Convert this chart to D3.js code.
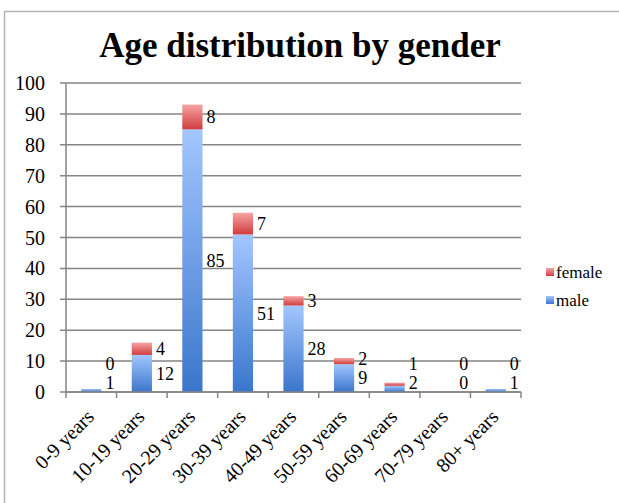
<!DOCTYPE html>
<html lang="en">
<head>
<meta charset="utf-8">
<title>Age distribution by gender</title>
<script src="https://cdn.jsdelivr.net/npm/d3@7"></script>
<style>
  body { margin: 0; background: #fff; }
</style>
</head>
<body>
<script>
// data
var categories = ["0-9 years", "10-19 years", "20-29 years", "30-39 years", "40-49 years",
                  "50-59 years", "60-69 years", "70-79 years", "80+ years"];
var male = [1, 12, 85, 51, 28, 9, 2, 0, 1];
var female = [0, 4, 8, 7, 3, 2, 1, 0, 0];
var yTicks = [0, 10, 20, 30, 40, 50, 60, 70, 80, 90, 100];
var seriesNames = ["female", "male"];

var w = 619, h = 503;
var plotLeft = 66, plotRight = 521, plotTop = 83, plotBottom = 392;
var serif = "'Liberation Serif', 'Times New Roman', 'DejaVu Serif', serif";

var svg = d3.select("body").append("svg")
    .attr("width", w)
    .attr("height", h)
    .attr("font-family", serif);

// gradients
var defs = svg.append("defs");
function grad(id, c1, c2) {
  var g = defs.append("linearGradient").attr("id", id)
      .attr("x1", 0).attr("y1", 0).attr("x2", 0).attr("y2", 1);
  g.append("stop").attr("offset", "0%").attr("stop-color", c1);
  g.append("stop").attr("offset", "100%").attr("stop-color", c2);
}
grad("gMale", "#a3c6ff", "#3a76cc");
grad("gFemale", "#f7a3a3", "#cf3d3d");

// outer border (top + left only visible)
svg.append("path")
    .attr("d", "M4.5," + h + " L4.5,11.5 L" + w + ",11.5")
    .attr("fill", "none")
    .attr("stroke", "#b5b5b5")
    .attr("stroke-width", 1.5);

// title
svg.append("text")
    .attr("x", 300)
    .attr("y", 57)
    .attr("text-anchor", "middle")
    .attr("font-size", "35px")
    .attr("font-weight", "bold")
    .text("Age distribution by gender");

var x = d3.scaleBand()
    .domain(categories)
    .range([plotLeft, plotRight])
    .paddingInner(0.6)
    .paddingOuter(0.3);

var y = d3.scaleLinear()
    .domain([0, 100])
    .range([plotBottom, plotTop]);

// gridlines + y labels
svg.selectAll(".grid")
    .data(yTicks)
    .enter().append("line")
    .attr("x1", plotLeft - 6).attr("x2", plotRight)
    .attr("y1", function(d) { return y(d); })
    .attr("y2", function(d) { return y(d); })
    .attr("stroke", "#858585")
    .attr("stroke-width", 1.5);

svg.selectAll(".ylab")
    .data(yTicks)
    .enter().append("text")
    .attr("x", 45)
    .attr("y", function(d) { return y(d); })
    .attr("dy", "0.35em")
    .attr("text-anchor", "end")
    .attr("font-size", "20px")
    .text(function(d) { return d; });

// y axis line
svg.append("line")
    .attr("x1", plotLeft).attr("x2", plotLeft)
    .attr("y1", plotTop).attr("y2", plotBottom)
    .attr("stroke", "#858585").attr("stroke-width", 1.5);

// x tick marks at category boundaries
var step = x.step();
var bounds = d3.range(categories.length + 1).map(function(i) { return plotLeft + i * step; });
svg.selectAll(".xtick")
    .data(bounds)
    .enter().append("line")
    .attr("x1", function(d) { return d; })
    .attr("x2", function(d) { return d; })
    .attr("y1", plotBottom).attr("y2", plotBottom + 6)
    .attr("stroke", "#858585").attr("stroke-width", 1.5);

// stacked data
var rows = categories.map(function(c, i) {
  return { cat: c, male: male[i], female: female[i] };
});

// bars - male
svg.selectAll(".male")
    .data(rows)
    .enter().append("rect")
    .attr("x", function(d) { return x(d.cat); })
    .attr("width", x.bandwidth())
    .attr("y", function(d) { return y(d.male); })
    .attr("height", function(d) { return plotBottom - y(d.male); })
    .attr("fill", "url(#gMale)");

// bars - female
svg.selectAll(".female")
    .data(rows)
    .enter().append("rect")
    .attr("x", function(d) { return x(d.cat); })
    .attr("width", x.bandwidth())
    .attr("y", function(d) { return y(d.male + d.female); })
    .attr("height", function(d) { return y(d.male) - y(d.male + d.female); })
    .attr("fill", "url(#gFemale)");

// x axis line
svg.append("line")
    .attr("x1", plotLeft).attr("x2", plotRight)
    .attr("y1", plotBottom).attr("y2", plotBottom)
    .attr("stroke", "#858585").attr("stroke-width", 1.5);

// value labels
function maleLabelY(d) {
  return Math.min((y(0) + y(d.male)) / 2, plotBottom - 9);
}
svg.selectAll(".mlab")
    .data(rows)
    .enter().append("text")
    .attr("x", function(d) { return x(d.cat) + x.bandwidth() + 4; })
    .attr("y", maleLabelY)
    .attr("dy", "0.35em")
    .attr("font-size", "18px")
    .text(function(d) { return d.male; });

svg.selectAll(".flab")
    .data(rows)
    .enter().append("text")
    .attr("x", function(d) { return x(d.cat) + x.bandwidth() + 4; })
    .attr("y", function(d) {
      var mid = (y(d.male) + y(d.male + d.female)) / 2;
      return Math.min(mid, maleLabelY(d) - 19);
    })
    .attr("dy", "0.35em")
    .attr("font-size", "18px")
    .text(function(d) { return d.female; });

// x labels
svg.selectAll(".xlab")
    .data(categories)
    .enter().append("text")
    .attr("transform", function(d) {
      return "translate(" + (x(d) + x.bandwidth() / 2 + 4) + "," + (plotBottom + 26) + ") rotate(-45)";
    })
    .attr("text-anchor", "end")
    .attr("font-size", "20px")
    .text(function(d) { return d; });

// legend
var legend = svg.selectAll(".leg")
    .data(seriesNames)
    .enter().append("g")
    .attr("transform", function(d, i) { return "translate(546," + (272 + i * 28) + ")"; });
legend.append("rect")
    .attr("x", 0).attr("y", -4)
    .attr("width", 8).attr("height", 8)
    .attr("fill", function(d) { return d === "male" ? "url(#gMale)" : "url(#gFemale)"; });
legend.append("text")
    .attr("x", 10)
    .attr("dy", "0.35em")
    .attr("font-size", "17px")
    .text(function(d) { return d; });
</script>
</body>
</html>
